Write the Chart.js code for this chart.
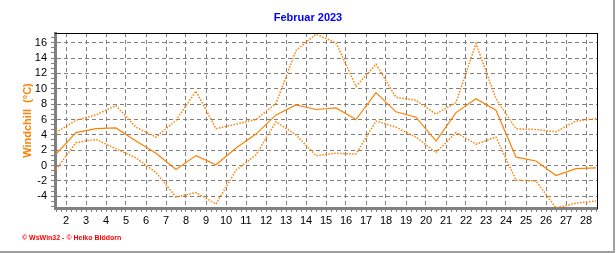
<!DOCTYPE html>
<html>
<head>
<meta charset="utf-8">
<script src="https://cdn.jsdelivr.net/npm/chart.js@4/dist/chart.umd.min.js"></script>
<style>
  html, body { margin: 0; padding: 0; background: #fff; }
  #wrap { position: relative; width: 616px; height: 253px; overflow: hidden; font-family: "Liberation Sans", Arial, sans-serif; }
  #chart { position: absolute; left: 0; top: 0; }
  #title { position: absolute; left: 0; top: 11px; width: 616px; text-align: center; font-weight: bold; font-size: 11px; line-height: 13px; color: #0000ff; }
  #credit { position: absolute; left: 22px; top: 234px; font-weight: bold; font-size: 7px; line-height: 7px; color: #ff0000; white-space: pre; }
  .edge { position: absolute; background: #a0a0a0; }
</style>
</head>
<body>
<div id="wrap">
  <canvas id="chart" width="616" height="253"></canvas>
  <div id="title">Februar 2023</div>
  <div id="credit">© WsWin32 - © Heiko Blödorn</div>
  <div class="edge" style="left:613px;top:0;width:2px;height:253px"></div>
  <div class="edge" style="left:0;top:251px;width:615px;height:2px"></div>
</div>
<script>
// Windchill Februar 2023 - Tageswerte (Max / Mittel / Min), gezeichnet jeweils zur Tagesmitte
const days = [1, 2, 3, 4, 5, 6, 7, 8, 9, 10, 11, 12, 13, 14, 15, 16, 17, 18, 19, 20, 21, 22, 23, 24, 25, 26, 27, 28];
const windchillMax = [4.3, 5.9, 6.6, 7.8, 5.0, 3.7, 5.9, 9.7, 4.8, 5.4, 6.0, 8.1, 15.0, 17.1, 16.0, 10.3, 13.2, 8.9, 8.5, 6.7, 8.2, 15.9, 8.7, 4.8, 4.7, 4.4, 5.8, 6.1];
const windchillAvg = [1.5, 4.3, 4.8, 4.9, 3.2, 1.6, -0.5, 1.3, 0.1, 2.3, 4.1, 6.6, 7.9, 7.3, 7.5, 6.0, 9.5, 7.0, 6.3, 3.2, 6.9, 8.7, 7.2, 1.1, 0.6, -1.3, -0.4, -0.3];
const windchillMin = [-0.5, 3.0, 3.4, 2.2, 1.0, -0.9, -4.1, -3.5, -5.0, -0.6, 1.4, 5.7, 4.0, 1.3, 1.6, 1.5, 5.8, 5.0, 3.7, 1.7, 4.3, 2.8, 3.7, -1.9, -2.0, -5.5, -4.9, -4.6];
const xTicks = [2, 3, 4, 5, 6, 7, 8, 9, 10, 11, 12, 13, 14, 15, 16, 17, 18, 19, 20, 21, 22, 23, 24, 25, 26, 27, 28];
const yTicks = [-4, -2, 0, 2, 4, 6, 8, 10, 12, 14, 16];

const ORANGE = '#ff8000';
const GRID = '#808080';
const tickFont = { family: '"Liberation Sans", Arial, sans-serif', size: 11 };

const near = (list, v) => list.find(t => Math.abs(t - v) < 1e-6);
const toPoints = vals => days.map((d, i) => ({ x: d + 0.5, y: vals[i] }));

function series(vals, dotted) {
  return {
    data: toPoints(vals),
    borderColor: ORANGE,
    borderWidth: dotted ? 1.5 : 1.2,
    borderDash: dotted ? [1.5, 1.5] : [],
    pointRadius: 0,
    tension: 0,
    fill: false
  };
}

new Chart(document.getElementById('chart').getContext('2d'), {
  type: 'line',
  data: { datasets: [series(windchillMax, true), series(windchillAvg, false), series(windchillMin, true)] },
  options: {
    responsive: false,
    animation: false,
    events: [],
    layout: { padding: { top: 33, right: 19, left: 0, bottom: 0 } },
    plugins: { legend: { display: false }, tooltip: { enabled: false } },
    scales: {
      x: {
        type: 'linear', position: 'bottom', min: 1.45, max: 28.55,
        afterFit: s => { s.height = 45; },
        grid: {
          color: c => near(xTicks, c.tick.value) !== undefined ? GRID : 'rgba(0,0,0,0)',
          tickColor: GRID, tickLength: 4, tickBorderDash: [], lineWidth: 1
        },
        border: { display: true, color: GRID, width: 3, dash: [4, 3] },
        ticks: {
          stepSize: 0.25, autoSkip: false, maxRotation: 0, includeBounds: false,
          color: '#000', font: tickFont, padding: 2,
          callback: v => { const t = near(xTicks, v); return t !== undefined ? String(t) : ''; }
        }
      },
      y: {
        type: 'linear', position: 'left', min: -5.52, max: 17.26,
        afterFit: s => { s.width = 55; },
        grid: {
          color: c => near(yTicks, c.tick.value) !== undefined ? GRID : 'rgba(0,0,0,0)',
          tickColor: GRID, tickLength: 4, tickBorderDash: [], lineWidth: 1
        },
        border: { display: true, color: GRID, width: 3, dash: [4, 3] },
        ticks: {
          stepSize: 2 / 3, autoSkip: false, includeBounds: false,
          color: '#000', font: tickFont, padding: 4,
          callback: v => { const t = near(yTicks, v); return t !== undefined ? String(t) : ''; }
        },
        title: {
          display: true, text: 'Windchill  (°C)', color: ORANGE,
          font: { family: '"Liberation Sans", Arial, sans-serif', size: 11, weight: 'bold' },
          padding: { top: 21, bottom: 0 }
        }
      },
      xTop: {
        type: 'linear', position: 'top', min: 0, max: 1,
        afterFit: s => { s.height = 0; },
        ticks: { display: false },
        grid: { display: false, drawTicks: false },
        border: { display: true, color: '#000', width: 1 }
      },
      yRight: {
        type: 'linear', position: 'right', min: 0, max: 1,
        afterFit: s => { s.width = 0; },
        ticks: { display: false },
        grid: { display: false, drawTicks: false },
        border: { display: true, color: '#000', width: 1 }
      }
    }
  }
});
</script>
</body>
</html>
